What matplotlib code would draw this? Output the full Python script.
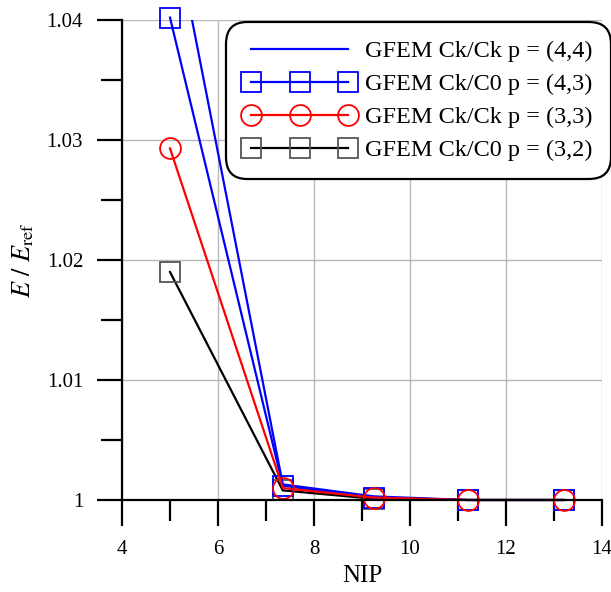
import matplotlib
matplotlib.use("Agg")
import matplotlib.pyplot as plt
from matplotlib.ticker import MultipleLocator

# Times-like look of the original figure
plt.rcParams['font.family'] = ['Liberation Serif', 'DejaVu Serif']
plt.rcParams['mathtext.fontset'] = 'stix'

# NIP values and energy ratios
nip = [5, 7.35, 9.25, 11.2, 13.2]
ck_ck_44 = [1.0494, 1.0013, 1.0003, 1.0000, 1.0000]
ck_c0_43 = [1.0402, 1.0012, 1.0002, 1.0000, 1.0000]
ck_ck_33 = [1.0293, 1.0010, 1.0002, 1.0000, 1.0000]
ck_c0_32 = [1.0190, 1.0008, 1.0001, 1.0000, 1.0000]

labels = ['GFEM Ck/Ck p = (4,4)', 'GFEM Ck/C0 p = (4,3)',
          'GFEM Ck/Ck p = (3,3)', 'GFEM Ck/C0 p = (3,2)']

fig = plt.figure(figsize=(6.11, 5.92), dpi=100)
ax = fig.add_axes([122 / 611, 1 - 500 / 592, 480 / 611, 480 / 592])

ms = 15
# black series first so the coloured markers sit on top of it
l4, = ax.plot(nip, ck_c0_32, color='black', lw=1.6, marker='s', ms=ms, mfc='none',
              mec='#555555', mew=1.3, label=labels[3], clip_on=False)
l1, = ax.plot(nip, ck_ck_44, color='#0000ff', lw=1.6, label=labels[0])
l2, = ax.plot(nip, ck_c0_43, color='#0000ff', lw=1.6, marker='s', ms=ms, mfc='none',
              mec='#0000ff', mew=1.3, label=labels[1], clip_on=False)
l3, = ax.plot(nip, ck_ck_33, color='#ff0000', lw=1.6, marker='o', ms=ms, mfc='none',
              mec='#ff0000', mew=1.3, label=labels[2], clip_on=False)

ax.set_xlim(4, 14)
ax.set_ylim(1.0, 1.04)
ax.xaxis.set_major_locator(MultipleLocator(2))
ax.xaxis.set_minor_locator(MultipleLocator(1))
ax.yaxis.set_minor_locator(MultipleLocator(0.005))
ax.set_yticks([1.0, 1.01, 1.02, 1.03, 1.04])
ax.set_yticklabels(['1', '1.01', '1.02', '1.03', '1.04'])

ax.grid(True, which='major', color='#b8b8b8', lw=1.0)
ax.set_axisbelow(True)
for s in ['top', 'right']:
    ax.spines[s].set_visible(False)
for s in ['left', 'bottom']:
    ax.spines[s].set_linewidth(1.6)

ax.tick_params(axis='y', which='major', direction='out', length=18, width=1.6, labelsize=15, pad=10)
ax.tick_params(axis='x', which='major', direction='out', length=19, width=1.6, labelsize=15, pad=10)
ax.tick_params(which='minor', direction='out', length=15, width=1.6)

ax.set_xlabel('NIP', fontsize=18, labelpad=4)
ax.set_ylabel(r'$E\ /\ E_{\mathrm{ref}}$', fontsize=19, labelpad=8)

leg = ax.legend([l1, l2, l3, l4], labels, loc='upper right',
                bbox_to_anchor=(1.0 + 9 / 480, 1.0 - 2 / 480),
                fontsize=17.5, numpoints=3, handlelength=4.6, handletextpad=0.4,
                labelspacing=0.45, borderpad=0.75, borderaxespad=0, fancybox=True,
                framealpha=1, edgecolor='black')
leg.get_frame().set_linewidth(1.6)
leg.get_frame().set_boxstyle('round', pad=0, rounding_size=0.9)

fig.savefig('out.png', dpi=100)
